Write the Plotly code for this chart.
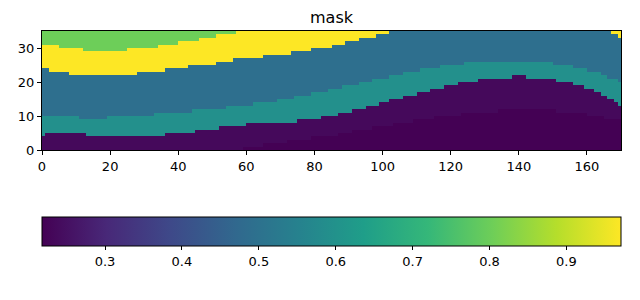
import numpy as np
import plotly.graph_objects as go

NCOLS = 170
NROWS = 35

# level values of the mask (bottom to top)
v_darkest = 0.218
v_purple = 0.235
v_teal = 0.594
v_blue = 0.49
v_yellow = 0.971
v_green = 0.802

# boundaries as (start column, height) runs
b_darkest = [(0, 0), (59, 1), (65, 2), (72, 3), (79, 4), (87, 5), (91, 6), (97, 7), (103, 8),
             (109, 9), (115, 10), (123, 11), (134, 12), (151, 11), (160, 10), (165, 9)]
b_purple = [(0, 4), (1, 5), (13, 4), (36, 5), (45, 6), (52, 7), (60, 8), (75, 9), (82, 10),
            (87, 11), (91, 12), (95, 13), (99, 14), (102, 15), (106, 16), (110, 17), (114, 18),
            (118, 19), (122, 20), (128, 21), (138, 22), (142, 21), (151, 20), (156, 19),
            (159, 18), (162, 17), (164, 16), (166, 15), (168, 14), (169, 13)]
b_teal = [(0, 10), (11, 9), (19, 10), (33, 11), (44, 12), (54, 13), (62, 14), (69, 15),
          (74, 16), (79, 17), (84, 18), (88, 19), (93, 20), (97, 21), (102, 22), (106, 23),
          (111, 24), (117, 25), (124, 26), (150, 25), (156, 24), (160, 23), (164, 22),
          (166, 21), (169, 20)]
b_blue = [(0, 24), (2, 23), (8, 22), (28, 23), (36, 24), (43, 25), (51, 26), (56, 27),
          (65, 28), (73, 29), (79, 30), (85, 31), (89, 32), (93, 33), (98, 34), (102, 35)]
b_yellow = [(0, 31), (5, 30), (12, 29), (25, 30), (34, 31), (40, 32), (46, 33), (51, 34),
            (57, 35)]
# small yellow patch in the top-right corner: (column, row)
corner_cells = [(167, 34), (168, 34), (169, 34), (169, 33)]


def expand(runs):
    out = np.zeros(NCOLS, dtype=int)
    for i, (s, h) in enumerate(runs):
        e = runs[i + 1][0] if i + 1 < len(runs) else NCOLS
        out[s:e] = h
    return out


h0, h1, h2, h3, h4 = (expand(r) for r in (b_darkest, b_purple, b_teal, b_blue, b_yellow))
rows = np.arange(NROWS)[:, None]
z = np.full((NROWS, NCOLS), v_green)
z = np.where(rows < h4[None, :], v_yellow, z)
z = np.where(rows < h3[None, :], v_blue, z)
z = np.where(rows < h2[None, :], v_teal, z)
z = np.where(rows < h1[None, :], v_purple, z)
z = np.where(rows < h0[None, :], v_darkest, z)
for c, r in corner_cells:
    z[r, c] = v_yellow

cb_ticks = [0.3, 0.4, 0.5, 0.6, 0.7, 0.8, 0.9]
font = dict(family="DejaVu Sans", size=13, color="black")

fig = go.Figure(go.Heatmap(
    z=z, x=np.arange(NCOLS) + 0.5, y=np.arange(NROWS) + 0.5,
    colorscale="Viridis", zmin=v_darkest, zmax=v_yellow,
    colorbar=dict(orientation="h", x=0.5, xanchor="center", len=1, lenmode="fraction",
                  y=-67 / 119, yanchor="top", thickness=29, thicknessmode="pixels",
                  xpad=0, ypad=0, outlinewidth=1, outlinecolor="black",
                  tickvals=cb_ticks, ticktext=[f"{t:.1f}" for t in cb_ticks],
                  ticks="outside", ticklen=4, tickcolor="black", tickfont=font),
    hoverinfo="skip",
))

axis_common = dict(showline=True, mirror=True, linecolor="black", linewidth=1,
                   ticks="outside", ticklen=4, tickcolor="black", showgrid=False,
                   zeroline=False, tickfont=font)
fig.update_layout(
    width=640, height=300,
    margin=dict(l=42, r=19, t=31, b=150),
    paper_bgcolor="white", plot_bgcolor="white",
    title=dict(text="mask", x=0.5, xref="paper", xanchor="center",
               y=1 - 17 / 300, yanchor="middle", yref="container",
               font=dict(family="DejaVu Sans", size=16, color="black")),
    xaxis=dict(range=[0, NCOLS], tickvals=list(range(0, 161, 20)), **axis_common),
    yaxis=dict(range=[0, NROWS], tickvals=[0, 10, 20, 30], **axis_common),
)
fig.write_html("out.html")
